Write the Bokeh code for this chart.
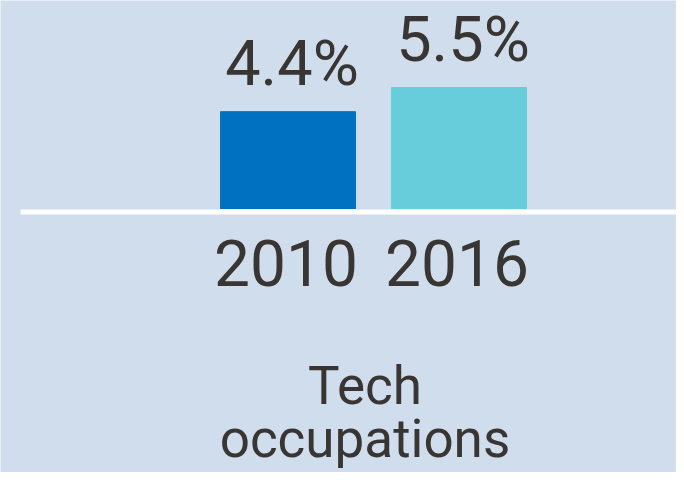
from bokeh.plotting import figure
from bokeh.models import Range1d, ColumnDataSource
from bokeh.core.properties import value
from bokeh.embed import file_html
from bokeh.resources import INLINE

years = ["2010", "2016"]
shares = [4.4, 5.5]
share_labels = ["4.4%", "5.5%"]
colors = ["#0071c1", "#68cddb"]
group_label = "Tech\noccupations"

BG = "#d0ddec"
TXT = "#383533"
FONT = "Roboto"

W, H = 676, 472
px_per_unit_y = 22.0
zero_px = 208.0
px_per_slot = 171.0
first_center_px = 287.5

xs = list(range(len(years)))
x0 = -first_center_px / px_per_slot
x1 = x0 + W / px_per_slot
ytop = zero_px / px_per_unit_y
ybot = ytop - H / px_per_unit_y

p = figure(width=W, height=H, output_backend="svg", toolbar_location=None,
           x_range=Range1d(x0, x1), y_range=Range1d(ybot, ytop),
           min_border=0, background_fill_color=BG, border_fill_color=BG,
           outline_line_color=None)
p.axis.visible = False
p.grid.visible = False

src = ColumnDataSource(dict(x=xs, top=shares, color=colors, lab=share_labels, yr=years))
p.vbar(x="x", top="top", bottom=0, width=135 / px_per_slot, color="color", source=src)

# baseline
ybl = -3.5 / px_per_unit_y
p.segment(x0=[x0 + 20 / px_per_slot], x1=[x1], y0=[ybl], y1=[ybl],
          line_color="white", line_width=5)

p.text(x="x", y="top", text="lab", source=src, text_align="center", text_baseline="alphabetic",
       y_offset=-48, x_offset=4, text_font=value(FONT), text_font_size="63px", text_color=TXT)
p.text(x="x", y=0, text="yr", source=src, text_align="center", text_baseline="alphabetic",
       y_offset=54, x_offset=-2, text_font=value(FONT), text_font_size="64px", text_color=TXT)

lines = group_label.split("\n")
cx = (xs[0] + xs[-1]) / 2 - 0.05
p.text(x=[cx, cx], y=[(zero_px - 385) / px_per_unit_y, (zero_px - 438) / px_per_unit_y], text=lines,
       text_align="center", text_baseline="alphabetic",
       text_font=value(FONT), text_font_size="53px", text_color=TXT)

open("out.html", "w").write(file_html(p, INLINE))
